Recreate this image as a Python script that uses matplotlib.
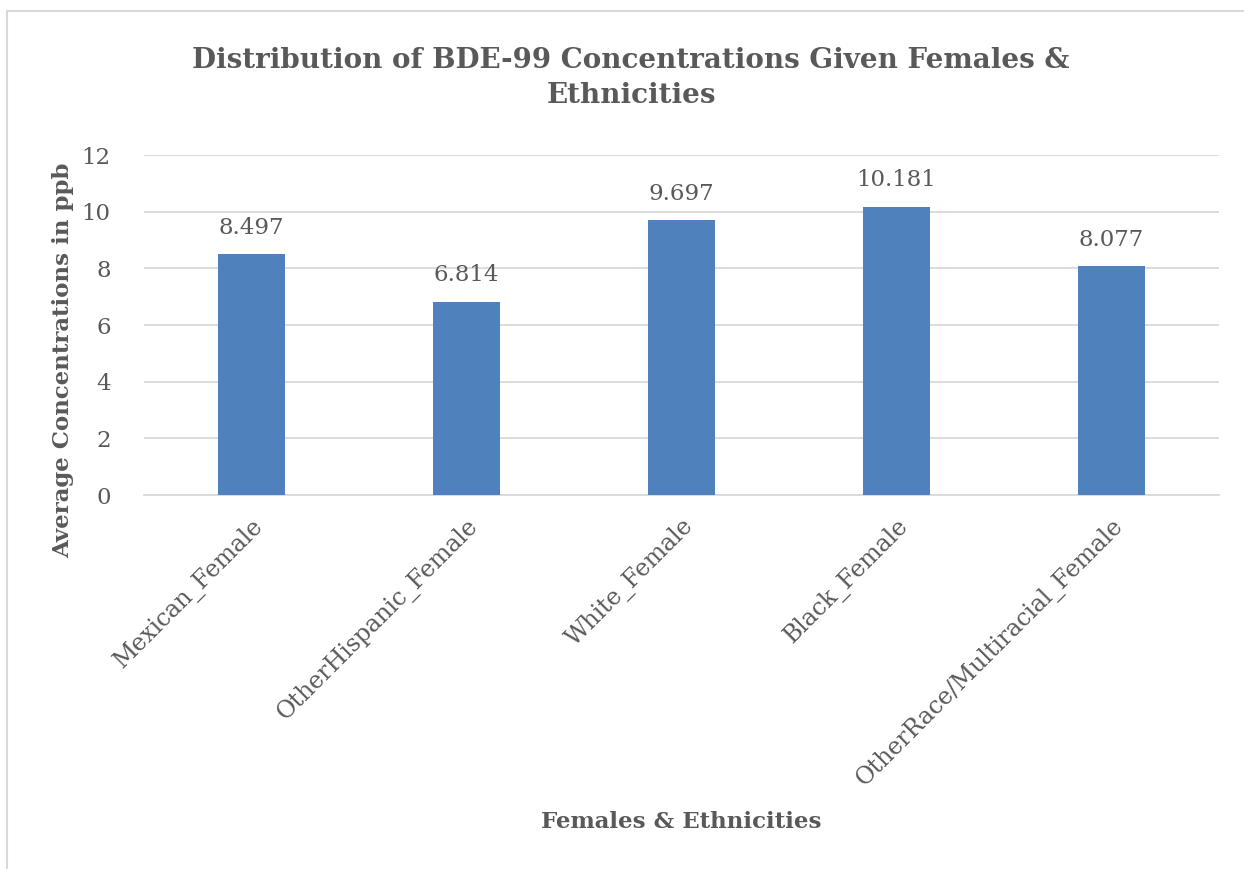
import matplotlib.pyplot as plt
from matplotlib.lines import Line2D

categories = ['Mexican_Female', 'OtherHispanic_Female', 'White_Female',
              'Black_Female', 'OtherRace/Multiracial_Female']
averages = [8.497, 6.814, 9.697, 10.181, 8.077]
yticks = [0, 2, 4, 6, 8, 10, 12]

text_col = '#595959'
grid_col = '#D9D9D9'
bar_col = '#4F81BD'

plt.rcParams['font.family'] = ['DejaVu Serif']

W, H = 1244, 869
fig = plt.figure(figsize=(W / 100, H / 100), dpi=100)
# plot area in pixels: x 144..1219, y 155..495
ax = fig.add_axes([144 / W, 1 - 495 / H, (1219 - 144) / W, (495 - 155) / H])

x = range(len(categories))
bars = ax.bar(x, averages, width=0.31, color=bar_col, zorder=3)
for b, v in zip(bars, averages):
    ax.text(b.get_x() + b.get_width() / 2, v + 0.55, '%.3f' % v,
            ha='center', va='bottom', fontsize=16.5, color=text_col)

ax.set_xlim(-0.5, len(categories) - 0.5)
ax.set_ylim(0, 12)
ax.set_yticks(yticks)
ax.set_yticklabels([str(t) for t in yticks], fontsize=16.5, color=text_col)
ax.set_xticks(list(x))
ax.set_xticklabels(categories, rotation=45, ha='right', rotation_mode='anchor',
                   fontsize=17, color=text_col)
ax.tick_params(axis='both', length=0)
ax.tick_params(axis='y', pad=24)
ax.tick_params(axis='x', pad=14)
ax.grid(axis='y', color=grid_col, linewidth=1.3, zorder=0)
for s in ['top', 'right', 'left']:
    ax.spines[s].set_visible(False)
ax.spines['bottom'].set_color(grid_col)
ax.spines['bottom'].set_linewidth(1.3)

fig.text(63 / W, 1 - 360 / H, 'Average Concentrations in ppb', rotation=90,
         ha='center', va='center', fontsize=16.5, fontweight='bold', color=text_col)
fig.text(681 / W, 1 - 822 / H, 'Females & Ethnicities', ha='center', va='center',
         fontsize=16.5, fontweight='bold', color=text_col)
fig.text(631 / W, 1 - 78 / H,
         'Distribution of BDE-99 Concentrations Given Females &\nEthnicities',
         ha='center', va='center', fontsize=20, fontweight='bold', color=text_col,
         linespacing=1.4)

# chart frame
fig.add_artist(Line2D([7.5 / W, 7.5 / W], [0, 1 - 11 / H], color=grid_col, lw=1.5))
fig.add_artist(Line2D([7.5 / W, 1], [1 - 11 / H, 1 - 11 / H], color=grid_col, lw=1.5))

fig.savefig('out.png', dpi=100, facecolor='white')
